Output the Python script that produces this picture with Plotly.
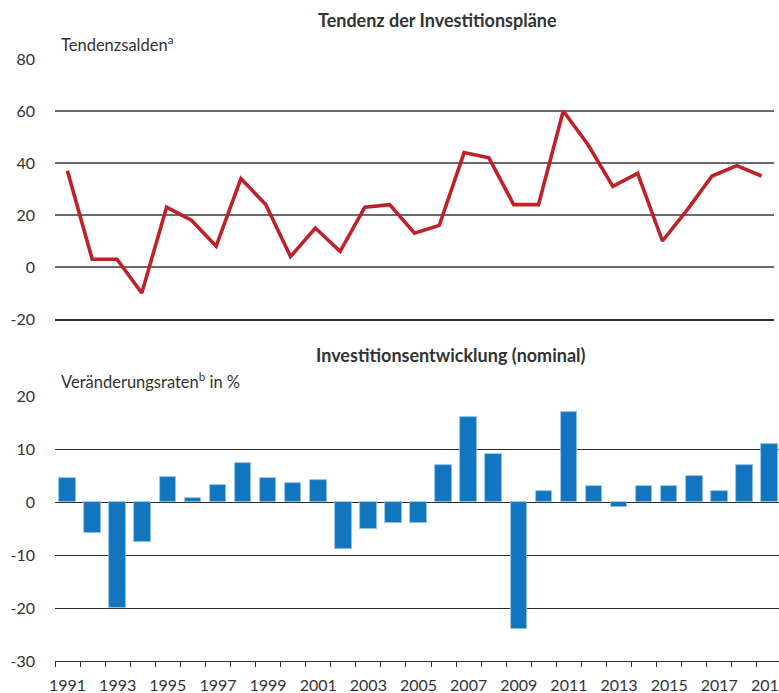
import plotly.graph_objects as go

years = list(range(1991, 2020))
tendenz = [37, 3, 3, -10, 23, 18, 8, 34, 24, 4, 15, 6, 23, 24, 13, 16, 44, 42, 24, 24,
           60, 47, 31, 36, 10, 22, 35, 39, 35]
veraenderung = [4.5, -5.8, -20, -7.6, 4.8, 0.7, 3.3, 7.3, 4.6, 3.5, 4.1, -8.9, -5, -4, -4,
                7, 16, 9, -24, 2, 17, 3, -1, 3, 3, 5, 2, 7, 11]
tick_years = [y for y in years if y % 2 == 1]
top_ticks = [-20, 0, 20, 40, 60, 80]
bottom_ticks = [-30, -20, -10, 0, 10, 20]

FONT = "Lato"
TXT = "#333333"

fig = go.Figure()
fig.add_trace(go.Scatter(x=years, y=tendenz, mode="lines",
                         line=dict(color="#bd2229", width=3.6),
                         xaxis="x", yaxis="y", showlegend=False))
fig.add_trace(go.Bar(x=years, y=veraenderung, width=0.66,
                     marker=dict(color="#1176bf", line=dict(width=0.8, color="#9cc4e6")),
                     xaxis="x2", yaxis="y2", showlegend=False))

H = 661.0
def py(p):
    return (H - p) / H

fig.update_layout(
    width=779, height=693,
    margin=dict(l=55, r=0, t=0, b=32),
    paper_bgcolor="white", plot_bgcolor="white",
    font=dict(family=FONT, size=16, color=TXT),
    bargap=0,
    xaxis=dict(domain=[0, (774 - 55) / 724], range=[1990.5, 2019.5], anchor="y",
               showticklabels=False, showgrid=False, zeroline=False, ticks="",
               showline=True, linecolor="#2e2e2e", linewidth=1.6, automargin=False),
    yaxis=dict(domain=[py(319), py(59)], range=[-20, 80], tickvals=top_ticks,
               ticktext=[str(v) for v in top_ticks],
               anchor="x", showgrid=True, gridcolor="#6b6b6b", gridwidth=1.6,
               zeroline=False, ticks="", ticklabelstandoff=19, automargin=False,
               tickfont=dict(size=16, color=TXT)),
    xaxis2=dict(domain=[0, 1], range=[1990.5, 2019.38], anchor="y2",
                tickvals=tick_years, ticktext=[str(y) for y in tick_years],
                ticks="", showgrid=False, zeroline=False, automargin=False,
                showline=True, linecolor="#333333", linewidth=1.4,
                ticklabelstandoff=10, ticklabeloverflow="allow",
                tickfont=dict(size=16, color=TXT),
                minor=dict(tickmode="linear", tick0=1990.5, dtick=1, ticks="outside",
                           ticklen=5, tickcolor="#333333", tickwidth=1.2, showgrid=False)),
    yaxis2=dict(domain=[0, py(396)], range=[-30, 20], tickvals=bottom_ticks,
                ticktext=[str(v) for v in bottom_ticks],
                anchor="x2", showgrid=True, gridcolor="#2a2a2a", gridwidth=1.3,
                zeroline=False, ticks="", ticklabelstandoff=19, automargin=False,
                tickfont=dict(size=16, color=TXT)),
)

ann = [
    dict(text="<b>Tendenz der Investitionspläne</b>", x=(437.5 - 55) / 724, y=py(20),
         xanchor="center", yanchor="middle", font=dict(size=18)),
    dict(text="Tendenzsalden<sup>a</sup>", x=(59 - 55) / 724, y=py(44),
         xanchor="left", yanchor="middle", font=dict(size=16.5)),
    dict(text="<b>Investitionsentwicklung (nominal)</b>", x=(451 - 55) / 724, y=py(355),
         xanchor="center", yanchor="middle", font=dict(size=18)),
    dict(text="Veränderungsraten<sup>b</sup> in %", x=(59 - 55) / 724, y=py(381),
         xanchor="left", yanchor="middle", font=dict(size=16.5)),
]
for a in ann:
    a.update(xref="paper", yref="paper", showarrow=False)
fig.update_layout(annotations=ann)

fig.write_html("out.html", config={"displayModeBar": False},
               post_script="document.body.style.margin='0';document.body.style.overflow='hidden';")
